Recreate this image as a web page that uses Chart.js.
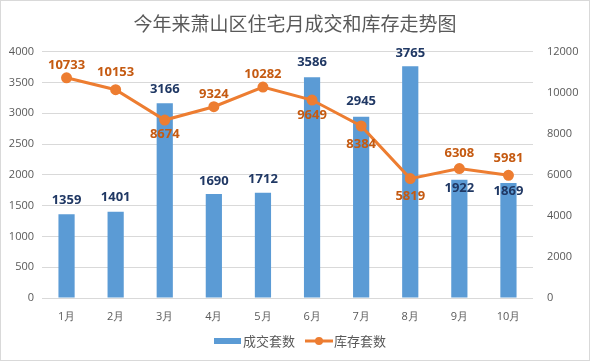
<!DOCTYPE html>
<html>
<head>
<meta charset="utf-8">
<script src="https://cdn.jsdelivr.net/npm/chart.js@4"></script>
<style>
  html, body { margin: 0; padding: 0; background: #fff; }
  #wrap { width: 590px; height: 361px; box-sizing: border-box; border: 1px solid #D9D9D9; }
</style>
</head>
<body>
<div id="wrap"><canvas id="myChart"></canvas></div>
<script>
const months = ['1月', '2月', '3月', '4月', '5月', '6月', '7月', '8月', '9月', '10月'];
const deals = [1359, 1401, 3166, 1690, 1712, 3586, 2945, 3765, 1922, 1869];
const stock = [10733, 10153, 8674, 9324, 10282, 9649, 8384, 5819, 6308, 5981];

const BLUE = '#5B9BD5';
const ORANGE = '#ED7D31';
const GREY = '#595959';

// label offsets (px from the mark), negative = above
const barLabelDy = [-14, -14, -14, -13, -13, -15, -15, -13, 9, 8];
const lineLabelDy = [-12, -17, 14, -12, -13, 15, 18, 18, -15, -17];

const labelPlugin = {
    id: 'valueLabels',
    afterDatasetsDraw(chart) {
        const ctx = chart.ctx;
        ctx.save();
        ctx.textAlign = 'center';
        ctx.textBaseline = 'middle';
        ctx.font = 'bold 13px "Open Sans", sans-serif';
        ctx.fillStyle = '#203864';
        chart.getDatasetMeta(0).data.forEach((bar, i) => {
            ctx.fillText(deals[i], bar.x, bar.y + barLabelDy[i]);
        });
        ctx.fillStyle = '#C55A11';
        chart.getDatasetMeta(1).data.forEach((pt, i) => {
            ctx.fillText(stock[i], pt.x, pt.y + lineLabelDy[i]);
        });
        ctx.restore();
    }
};

const legendPlugin = {
    id: 'customLegend',
    afterDraw(chart) {
        const ctx = chart.ctx;
        const y = 340;
        ctx.save();
        ctx.font = '13px "Noto Sans CJK SC", sans-serif';
        ctx.textBaseline = 'middle';
        ctx.fillStyle = BLUE;
        ctx.fillRect(213, y - 3, 27, 6);
        ctx.fillStyle = GREY;
        ctx.fillText('成交套数', 242, y);
        ctx.strokeStyle = ORANGE;
        ctx.lineWidth = 3;
        ctx.beginPath();
        ctx.moveTo(304, y);
        ctx.lineTo(332, y);
        ctx.stroke();
        ctx.fillStyle = ORANGE;
        ctx.beginPath();
        ctx.arc(318, y, 4, 0, Math.PI * 2);
        ctx.fill();
        ctx.fillStyle = GREY;
        ctx.fillText('库存套数', 333, y);
        ctx.restore();
    }
};

const tickFont = { family: '"Open Sans", sans-serif', size: 11 };
const plainNumber = v => String(v);

new Chart(document.getElementById('myChart'), {
    data: {
        labels: months,
        datasets: [{
            type: 'bar',
            label: '成交套数',
            data: deals,
            backgroundColor: BLUE,
            barPercentage: 0.33,
            categoryPercentage: 1,
            yAxisID: 'y',
            order: 2
        }, {
            type: 'line',
            label: '库存套数',
            data: stock,
            borderColor: ORANGE,
            backgroundColor: ORANGE,
            borderWidth: 3,
            pointRadius: 4,
            pointHoverRadius: 4,
            tension: 0,
            yAxisID: 'y1',
            order: 1
        }]
    },
    options: {
        responsive: true,
        maintainAspectRatio: false,
        animation: false,
        layout: { padding: { left: 0, right: 0, top: 0, bottom: 0 } },
        plugins: {
            legend: { display: false },
            tooltip: { enabled: false },
            title: {
                display: true,
                text: '今年来萧山区住宅月成交和库存走势图',
                color: GREY,
                font: { family: '"Noto Sans CJK SC", sans-serif', size: 19, weight: 'normal' },
                padding: { top: 11, bottom: 17 }
            }
        },
        scales: {
            x: {
                grid: { display: false },
                border: { display: false },
                ticks: { color: GREY, font: tickFont, padding: 4 },
                afterFit: s => { s.height = 62; }
            },
            y: {
                position: 'left',
                min: 0, max: 4000,
                ticks: { stepSize: 500, color: GREY, font: tickFont, padding: 8, callback: plainNumber },
                grid: { color: '#D9D9D9', drawTicks: false },
                border: { display: false },
                afterFit: s => { s.width = 41; }
            },
            y1: {
                position: 'right',
                min: 0, max: 12000,
                ticks: { stepSize: 2000, color: GREY, font: tickFont, padding: 14, callback: plainNumber },
                grid: { display: false, drawTicks: false },
                border: { display: false },
                afterFit: s => { s.width = 56; }
            }
        }
    },
    plugins: [labelPlugin, legendPlugin]
});
</script>
</body>
</html>
